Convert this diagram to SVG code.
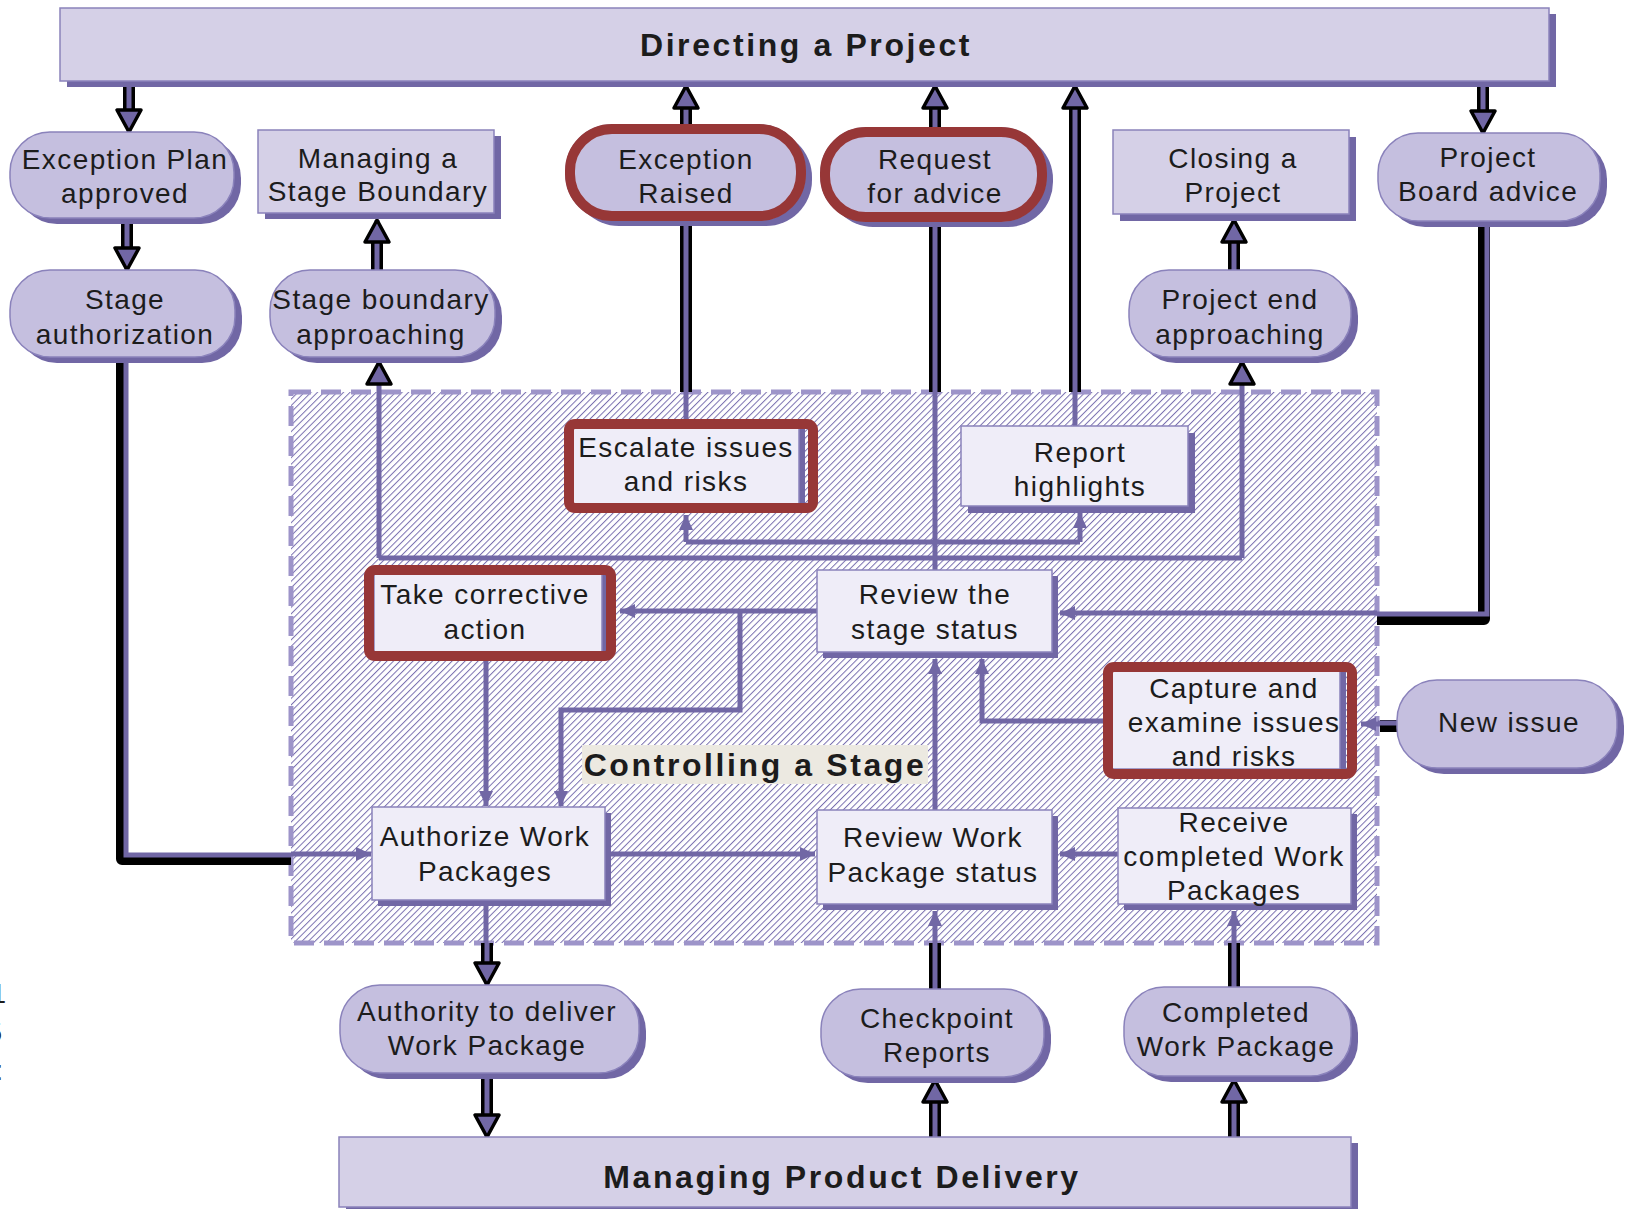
<svg xmlns="http://www.w3.org/2000/svg" width="1629" height="1210" viewBox="0 0 1629 1210">
  <defs>
    <style>
      .bar { fill: #d5d0e7; stroke: #8a82bb; stroke-width: 1.5; }
      .sh { fill: #7167a5; }
      .oval { fill: #c5bfdf; stroke: #8a82bb; stroke-width: 1.5; }
      .box { fill: #efedf8; stroke: #8a82bb; stroke-width: 1.5; }
      .red { fill: none; stroke: #973737; stroke-width: 10; }
      .t { font-family: "Liberation Sans", Arial, sans-serif; font-size: 28px; fill: #1c1c1c; text-anchor: middle; letter-spacing: 1.4px; }
      .tb { font-family: "Liberation Sans", Arial, sans-serif; font-size: 32px; font-weight: bold; fill: #1c1c1c; text-anchor: middle; letter-spacing: 2.6px; }
      .thin { fill: none; stroke: #7167a5; stroke-width: 5; stroke-linejoin: miter; }
      .kb { fill: none; stroke: #000; stroke-width: 12; stroke-linejoin: round; }
      .kp { fill: none; stroke: #7167a5; stroke-width: 5; stroke-linejoin: miter; }
    </style>
    <pattern id="hatch" width="4.6" height="4.6" patternUnits="userSpaceOnUse" patternTransform="rotate(45)">
      <rect width="4.6" height="4.6" fill="#ffffff"/>
      <line x1="0" y1="0" x2="0" y2="4.6" stroke="#7a70b0" stroke-width="2"/>
    </pattern>
    <marker id="ah" markerUnits="userSpaceOnUse" viewBox="0 -8 16 16" markerWidth="16" markerHeight="16" refX="15" refY="0" orient="auto">
      <path d="M0,-7 L15,0 L0,7 Z" fill="#7167a5"/>
    </marker>
    <marker id="ak" markerUnits="userSpaceOnUse" viewBox="-3 -16 30 32" markerWidth="30" markerHeight="32" refX="22" refY="0" orient="auto">
      <path d="M0,-12 L22,0 L0,12 Z" fill="#7167a5" stroke="#000" stroke-width="3.5" stroke-linejoin="round"/>
    </marker>
  </defs>

  <rect width="1629" height="1210" fill="#ffffff"/>

  <!-- glyph remnants along the left edge -->
  <g font-family="Liberation Sans, Arial, sans-serif" font-size="27" fill="#1c1c1c" text-anchor="end">
    <text x="6" y="1003">1</text>
    <text x="2" y="1042">5</text>
    <text x="3" y="1080">:</text>
  </g>

  <!-- Controlling a Stage container -->
  <g id="controlling-a-stage">
    <rect x="291" y="392" width="1086" height="551" fill="url(#hatch)" stroke="#9d94c9" stroke-width="5" stroke-dasharray="20 10"/>
    <rect x="582" y="745" width="346" height="39" fill="#ece9e1"/>
    <text class="tb" x="755" y="776">Controlling a Stage</text>
  </g>

  <!-- connectors -->
  <g id="connectors">
    <!-- thin flows -->
    <path class="thin" d="M686,392 V419"/>
    <path class="thin" d="M935,392 V570"/>
    <path class="thin" d="M1075,426 V392"/>
    <path class="thin" d="M1377,613 H1060" marker-end="url(#ah)"/>
    <path class="thin" d="M291,854 H371" marker-end="url(#ah)"/>
    <path class="thin" d="M379,558 H1242"/>
    <path class="thin" d="M379,558 V362" marker-end="url(#ak)"/>
    <path class="thin" d="M1242,558 V362" marker-end="url(#ak)"/>
    <path class="thin" d="M686,542 H1080"/>
    <path class="thin" d="M686,542 V515" marker-end="url(#ah)"/>
    <path class="thin" d="M1080,542 V513" marker-end="url(#ah)"/>
    <path class="thin" d="M817,611 H620" marker-end="url(#ah)"/>
    <path class="thin" d="M740,611 V710 H561 V806" marker-end="url(#ah)"/>
    <path class="thin" d="M486,661 V806" marker-end="url(#ah)"/>
    <path class="thin" d="M611,854 H815" marker-end="url(#ah)"/>
    <path class="thin" d="M935,810 V659" marker-end="url(#ah)"/>
    <path class="thin" d="M1103,721 H982 V659" marker-end="url(#ah)"/>
    <path class="thin" d="M1118,854 H1060" marker-end="url(#ah)"/>
    <path class="thin" d="M486,904 V943"/>
    <path class="thin" d="M935,943 V911" marker-end="url(#ah)"/>
    <path class="thin" d="M1234,943 V911" marker-end="url(#ah)"/>
    <path class="thin" d="M1380,724 H1361" marker-end="url(#ah)"/>

    <!-- heavy flows between processes -->
    <path class="kb" d="M129,84 V113"/><path class="kp" d="M129,84 V132" marker-end="url(#ak)"/>
    <path class="kb" d="M127,222 V251"/><path class="kp" d="M127,222 V270" marker-end="url(#ak)"/>
    <path class="kb" d="M377,270 V239"/><path class="kp" d="M377,270 V220" marker-end="url(#ak)"/>
    <path class="kb" d="M686,125 V105"/><path class="kp" d="M686,125 V86" marker-end="url(#ak)"/>
    <path class="kb" d="M686,220 V392"/><path class="kp" d="M686,220 V392"/>
    <path class="kb" d="M935,128 V105"/><path class="kp" d="M935,128 V86" marker-end="url(#ak)"/>
    <path class="kb" d="M935,221 V392"/><path class="kp" d="M935,221 V392"/>
    <path class="kb" d="M1075,392 V105"/><path class="kp" d="M1075,392 V86" marker-end="url(#ak)"/>
    <path class="kb" d="M1234,270 V239"/><path class="kp" d="M1234,270 V220" marker-end="url(#ak)"/>
    <path class="kb" d="M1483,86 V114"/><path class="kp" d="M1483,86 V133" marker-end="url(#ak)"/>
    <path class="kb" d="M1484,223 V619 H1377"/><path class="kp" d="M1487,223 V614 H1377"/>
    <path class="kb" d="M122,359 V859 H291"/><path class="kp" d="M126,359 V855 H291"/>
    <path class="kb" d="M1397,726 H1380"/><path class="kp" d="M1397,723 H1378"/>
    <path class="kb" d="M487,943 V966"/><path class="kp" d="M487,943 V985" marker-end="url(#ak)"/>
    <path class="kb" d="M487,1075 V1118"/><path class="kp" d="M487,1075 V1137" marker-end="url(#ak)"/>
    <path class="kb" d="M935,1137 V1099"/><path class="kp" d="M935,1137 V1080" marker-end="url(#ak)"/>
    <path class="kb" d="M935,989 V943"/><path class="kp" d="M935,989 V943"/>
    <path class="kb" d="M1234,1137 V1099"/><path class="kp" d="M1234,1137 V1080" marker-end="url(#ak)"/>
    <path class="kb" d="M1234,987 V943"/><path class="kp" d="M1234,987 V943"/>
  </g>

  <!-- process bars -->
  <g id="directing-a-project">
    <rect class="sh" x="67" y="14" width="1489" height="73"/>
    <rect class="bar" x="60" y="8" width="1489" height="73"/>
    <text class="tb" x="806" y="56">Directing a Project</text>
  </g>
  <g id="managing-product-delivery">
    <rect class="sh" x="346" y="1143" width="1012" height="66"/>
    <rect class="bar" x="339" y="1137" width="1012" height="70"/>
    <text class="tb" x="842" y="1188">Managing Product Delivery</text>
  </g>

  <!-- events (rounded) -->
  <g id="exception-plan-approved">
    <rect class="sh" x="17" y="138" width="224" height="86" rx="40"/>
    <rect class="oval" x="10" y="132" width="224" height="86" rx="40"/>
    <text class="t" x="125" y="169">Exception Plan</text>
    <text class="t" x="125" y="203">approved</text>
  </g>
  <g id="stage-authorization">
    <rect class="sh" x="17" y="276" width="225" height="87" rx="40"/>
    <rect class="oval" x="10" y="270" width="225" height="87" rx="40"/>
    <text class="t" x="125" y="309">Stage</text>
    <text class="t" x="125" y="344">authorization</text>
  </g>
  <g id="stage-boundary-approaching">
    <rect class="sh" x="277" y="276" width="225" height="87" rx="40"/>
    <rect class="oval" x="270" y="270" width="225" height="87" rx="40"/>
    <text class="t" x="381" y="309">Stage boundary</text>
    <text class="t" x="381" y="344">approaching</text>
  </g>
  <g id="exception-raised">
    <rect class="sh" x="573" y="131" width="239" height="95" rx="46"/>
    <rect class="oval" x="566" y="125" width="239" height="95" rx="46" stroke="none"/>
    <rect class="red" x="570" y="129" width="231" height="87" rx="42"/>
    <text class="t" x="686" y="169">Exception</text>
    <text class="t" x="686" y="203">Raised</text>
  </g>
  <g id="request-for-advice">
    <rect class="sh" x="828" y="134" width="225" height="93" rx="45"/>
    <rect class="oval" x="821" y="128" width="225" height="93" rx="45" stroke="none"/>
    <rect class="red" x="825" y="132" width="217" height="85" rx="41"/>
    <text class="t" x="935" y="169">Request</text>
    <text class="t" x="935" y="203">for advice</text>
  </g>
  <g id="project-board-advice">
    <rect class="sh" x="1385" y="139" width="222" height="88" rx="40"/>
    <rect class="oval" x="1378" y="133" width="222" height="88" rx="40"/>
    <text class="t" x="1488" y="167">Project</text>
    <text class="t" x="1488" y="201">Board advice</text>
  </g>
  <g id="project-end-approaching">
    <rect class="sh" x="1136" y="276" width="222" height="87" rx="40"/>
    <rect class="oval" x="1129" y="270" width="222" height="87" rx="40"/>
    <text class="t" x="1240" y="309">Project end</text>
    <text class="t" x="1240" y="344">approaching</text>
  </g>
  <g id="new-issue">
    <rect class="sh" x="1404" y="686" width="220" height="88" rx="40"/>
    <rect class="oval" x="1397" y="680" width="220" height="88" rx="40"/>
    <text class="t" x="1509" y="732">New issue</text>
  </g>
  <g id="authority-to-deliver">
    <rect class="sh" x="347" y="991" width="299" height="88" rx="40"/>
    <rect class="oval" x="340" y="985" width="299" height="88" rx="40"/>
    <text class="t" x="487" y="1021">Authority to deliver</text>
    <text class="t" x="487" y="1055">Work Package</text>
  </g>
  <g id="checkpoint-reports">
    <rect class="sh" x="828" y="995" width="223" height="88" rx="40"/>
    <rect class="oval" x="821" y="989" width="223" height="88" rx="40"/>
    <text class="t" x="937" y="1028">Checkpoint</text>
    <text class="t" x="937" y="1062">Reports</text>
  </g>
  <g id="completed-work-package">
    <rect class="sh" x="1131" y="993" width="227" height="89" rx="40"/>
    <rect class="oval" x="1124" y="987" width="227" height="89" rx="40"/>
    <text class="t" x="1236" y="1022">Completed</text>
    <text class="t" x="1236" y="1056">Work Package</text>
  </g>

  <!-- processes (boxes) -->
  <g id="managing-a-stage-boundary">
    <rect class="sh" x="265" y="136" width="236" height="83"/>
    <rect class="bar" x="258" y="130" width="236" height="83"/>
    <text class="t" x="378" y="168">Managing a</text>
    <text class="t" x="378" y="201">Stage Boundary</text>
  </g>
  <g id="closing-a-project">
    <rect class="sh" x="1120" y="137" width="236" height="84"/>
    <rect class="bar" x="1113" y="130" width="236" height="84"/>
    <text class="t" x="1233" y="168">Closing a</text>
    <text class="t" x="1233" y="202">Project</text>
  </g>
  <g id="escalate-issues-and-risks">
    <rect class="sh" x="577" y="427" width="228" height="78"/>
    <rect class="box" x="571" y="426" width="228" height="78"/>
    <rect class="red" x="569" y="424" width="244" height="84" rx="6"/>
    <text class="t" x="686" y="457">Escalate issues</text>
    <text class="t" x="686" y="491">and risks</text>
  </g>
  <g id="report-highlights">
    <rect class="sh" x="968" y="433" width="227" height="80"/>
    <rect class="box" x="961" y="426" width="227" height="80"/>
    <text class="t" x="1080" y="462">Report</text>
    <text class="t" x="1080" y="496">highlights</text>
  </g>
  <g id="take-corrective-action">
    <rect class="sh" x="380" y="573" width="228" height="80"/>
    <rect class="box" x="374" y="573" width="228" height="80"/>
    <rect class="red" x="369" y="570" width="242" height="86" rx="6"/>
    <text class="t" x="485" y="604">Take corrective</text>
    <text class="t" x="485" y="639">action</text>
  </g>
  <g id="review-the-stage-status">
    <rect class="sh" x="823" y="576" width="235" height="82"/>
    <rect class="box" x="817" y="570" width="235" height="82"/>
    <text class="t" x="935" y="604">Review the</text>
    <text class="t" x="935" y="639">stage status</text>
  </g>
  <g id="capture-and-examine">
    <rect class="sh" x="1116" y="671" width="230" height="100"/>
    <rect class="box" x="1110" y="669" width="230" height="100"/>
    <rect class="red" x="1108" y="667" width="244" height="107" rx="6"/>
    <text class="t" x="1234" y="698">Capture and</text>
    <text class="t" x="1234" y="732">examine issues</text>
    <text class="t" x="1234" y="766">and risks</text>
  </g>
  <g id="authorize-work-packages">
    <rect class="sh" x="378" y="813" width="233" height="93"/>
    <rect class="box" x="372" y="807" width="233" height="93"/>
    <text class="t" x="485" y="846">Authorize Work</text>
    <text class="t" x="485" y="881">Packages</text>
  </g>
  <g id="review-work-package-status">
    <rect class="sh" x="823" y="816" width="235" height="94"/>
    <rect class="box" x="817" y="810" width="235" height="94"/>
    <text class="t" x="933" y="847">Review Work</text>
    <text class="t" x="933" y="882">Package status</text>
  </g>
  <g id="receive-completed-work-packages">
    <rect class="sh" x="1124" y="814" width="233" height="96"/>
    <rect class="box" x="1118" y="808" width="233" height="96"/>
    <text class="t" x="1234" y="832">Receive</text>
    <text class="t" x="1234" y="866">completed Work</text>
    <text class="t" x="1234" y="900">Packages</text>
  </g>
</svg>
